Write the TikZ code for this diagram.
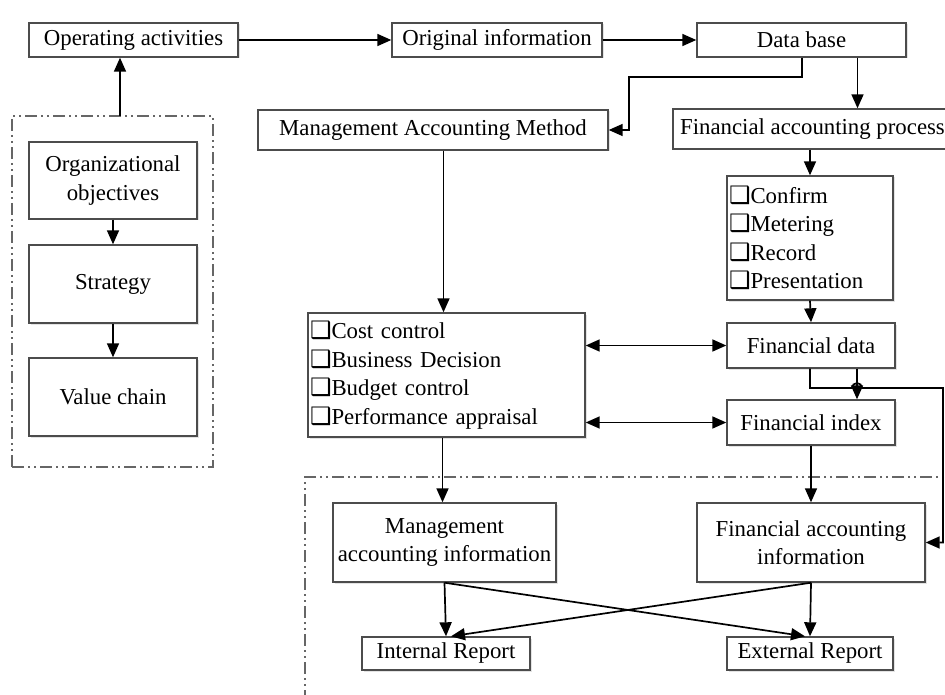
\documentclass[tikz,border=0pt]{standalone}
\usepackage{fontspec}
\setmainfont{Liberation Serif}
\newfontfamily\symfont{DejaVu Sans}
\usetikzlibrary{arrows.meta,shadows}
\newcommand{\cbx}{{\symfont\fontsize{24}{24}\selectfont ❑}}
\begin{document}
\begin{tikzpicture}[x=1pt,y=-1pt,
  every node/.style={font=\fontsize{22.8}{28.5}\selectfont},
  box/.style={draw=black!70, line width=1.4pt, fill=white,
    drop shadow={opacity=0.22, shadow xshift=1.5pt, shadow yshift=-1.5pt},
    inner sep=2pt, align=center},
  listbox/.style={box, align=left, inner xsep=2pt},
  grp/.style={draw=black!60, line width=1.3pt,
    dash pattern=on 12pt off 4pt on 2pt off 4pt on 2pt off 4pt},
  conn/.style={line width=1.7pt, -{Triangle[length=14pt,width=12pt]}},
  dbl/.style={line width=1.7pt, {Triangle[length=14pt,width=12pt]}-{Triangle[length=14pt,width=12pt]}}]
\useasboundingbox (0,0) rectangle (945,695);

% left group
\node[grp, minimum width=201, minimum height=351, inner sep=0pt] (grpl) at (112.5,291.5) {};
\node[box, minimum width=168, minimum height=77] (org) at (113,180.5) {Organizational\\objectives};
\node[box, minimum width=168, minimum height=78] (strat) at (113,284) {Strategy};
\node[box, minimum width=168, minimum height=78] (vc) at (113,397) {Value chain};

% top row
\node[box, minimum width=209, minimum height=34] (opact) at (133.5,40) {Operating activities};
\node[box, minimum width=210, minimum height=34] (orig) at (497,40) {Original information};
\node[box, minimum width=209, minimum height=34] (db) at (801.5,40) {Data base};

\node[box, minimum width=350, minimum height=40] (mam) at (433,130) {Management Accounting Method};
\node[box, minimum width=279, minimum height=40] (fap) at (812.5,129) {Financial accounting process};

\node[listbox, text width=162, minimum height=124] (chk) at (810,238)
  {\cbx Confirm\\\cbx Metering\\\cbx Record\\\cbx Presentation};
\node[box, minimum width=168, minimum height=45] (fdata) at (811,345.5) {Financial data};
\node[box, minimum width=168, minimum height=45] (findex) at (811,422.5) {Financial index};

\node[listbox, text width=273, minimum height=124] (lst) at (446.5,375)
  {\cbx Cost control\\\cbx Business Decision\\\cbx Budget control\\\cbx Performance appraisal};

% bottom group
\coordinate (gb1) at (960,477);
\coordinate (gb2) at (305,477);
\coordinate (gb3) at (305,710);
\draw[grp] (gb1) -- (gb2) -- (gb3);

\node[box, minimum width=223, minimum height=79] (mai) at (444.5,542.5) {Management\\accounting information};
\node[box, minimum width=228, minimum height=79] (fai) at (811,542.5) {Financial accounting\\information};
\node[box, minimum width=168, minimum height=33] (ir) at (446,653.5) {Internal Report};
\node[box, minimum width=166, minimum height=33] (er) at (810,653.5) {External Report};

% connectors
\coordinate (g1) at (120,116);
\draw[conn] (g1) -- (g1 |- opact.south);
\draw[conn] (org) -- (strat);
\draw[conn] (strat) -- (vc);
\draw[conn] (opact) -- (orig);
\draw[conn] (orig) -- (db);
\coordinate (k1) at (629,77);
\draw[conn] ([xshift=0.5pt]db.south) |- (k1) |- (mam.east);
\draw[conn] ([xshift=56pt]db.south) -- ([xshift=56pt]db.south |- fap.north);
\draw[conn] (chk.north |- fap.south) -- (chk.north);
\draw[conn] (chk.south) -- (fdata.north);
\draw[conn] ([xshift=-3pt]lst.north |- mam.south) -- ([xshift=-3pt]lst.north);
\draw[dbl] (lst.east |- fdata.west) -- (fdata.west);
\draw[dbl] (lst.east |- findex.west) -- (findex.west);
\draw[conn] ([xshift=-2pt]mai.north |- lst.south) -- ([xshift=-2pt]mai.north);
\draw[conn] (findex.south) -- (fai.north);
\draw[conn] (mai.south) -- (ir.north);
\draw[conn] (mai.south) -- ([xshift=-5pt]er.north);
\draw[conn] (fai.south) -- (er.north);
\draw[conn] (fai.south) -- ([xshift=5pt]ir.north);
\coordinate (h1) at (852,388);
\coordinate (h2) at (943,388);
\draw[conn] ([xshift=-1pt]fdata.south) |- (h1) arc[start angle=180, end angle=360, radius=5] -- (h2) |- (fai.east);
\draw[conn] ([xshift=46pt]fdata.south) -- ([xshift=46pt]findex.north);
\end{tikzpicture}
\end{document}
